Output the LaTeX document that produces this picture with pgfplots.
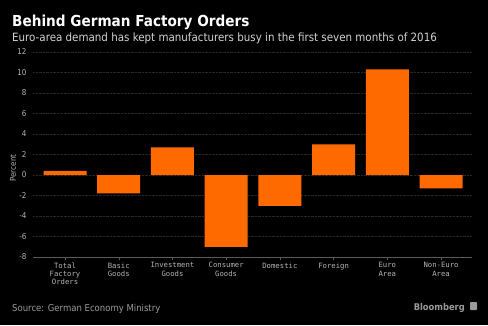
\documentclass[border=0pt]{standalone}
\usepackage{pgfplots}
\pgfplotsset{compat=1.18}
\usepackage{fontspec}
\setmainfont{DejaVu Sans Condensed}
\newfontfamily\monofont{DejaVu Sans Mono}
\definecolor{bborange}{HTML}{FF6A00}
\definecolor{ticktext}{HTML}{B4B4B4}
\definecolor{subtext}{HTML}{D2D2D2}
\definecolor{srctext}{HTML}{9A9A9A}
\definecolor{gridc}{HTML}{262626}
\definecolor{axisc}{HTML}{5A5A5A}
\begin{document}
\begin{tikzpicture}[x=1bp,y=1bp]
\fill[black] (0,0) rectangle (488,325);
\node[anchor=base west, inner sep=0, text=white, font=\bfseries\fontsize{15.2}{18}\selectfont] at (12,299) {Behind German Factory Orders};
\node[anchor=base west, inner sep=0, text=subtext, font=\fontsize{11.5}{13}\selectfont] at (12,284) {Euro-area demand has kept manufacturers busy in the first seven months of 2016};
\node[anchor=base west, inner sep=0, text=srctext, font=\fontsize{9.5}{11}\selectfont] at (12,14) {Source: German Economy Ministry};
\node[anchor=base east, inner sep=0, text=srctext, font=\bfseries\fontsize{9.3}{11}\selectfont] at (465,15) {Bloomberg};
\fill[srctext, rounded corners=0.8] (470,15) rectangle (477,23);
\node[rotate=90, text=ticktext, font=\fontsize{8}{9}\selectfont] at (13,157) {Percent};
\begin{axis}[
  at={(33bp,68bp)}, anchor=south west,
  scale only axis, width=439bp, height=205bp,
  xmin=-0.596, xmax=7.577, ymin=-8, ymax=12,
  ytick={-8,-6,-4,-2,0,2,4,6,8,10,12},
  xtick={0,1,2,3,4,5,6,7},
  xticklabels={{Total\\Factory\\Orders},{Basic\\Goods},{Investment\\Goods},{Consumer\\Goods},{Domestic},{Foreign},{Euro\\Area},{Non-Euro\\Area}},
  xticklabel style={align=center, text=ticktext, font=\monofont\fontsize{7.3}{8.3}\selectfont, yshift=1bp},
  yticklabel style={text=ticktext, font=\fontsize{8}{9}\selectfont},
  /pgf/number format/assume math mode=true,
  axis x line*=bottom, axis y line*=left,
  x axis line style={draw=axisc, -},
  y axis line style={draw=none},
  ymajorgrids, grid style={densely dotted, gridc, line width=0.6bp},
  xtick style={draw=axisc}, tick align=outside,
  major tick length=3bp,
  ytick style={draw=none},
  ybar, bar width=43bp,
]
\addplot[fill=bborange, draw=none] coordinates {(0,0.4) (1,-1.8) (2,2.7) (3,-7.0) (4,-3.0) (5,3.0) (6,10.3) (7,-1.3)};
\end{axis}
\end{tikzpicture}
\end{document}
